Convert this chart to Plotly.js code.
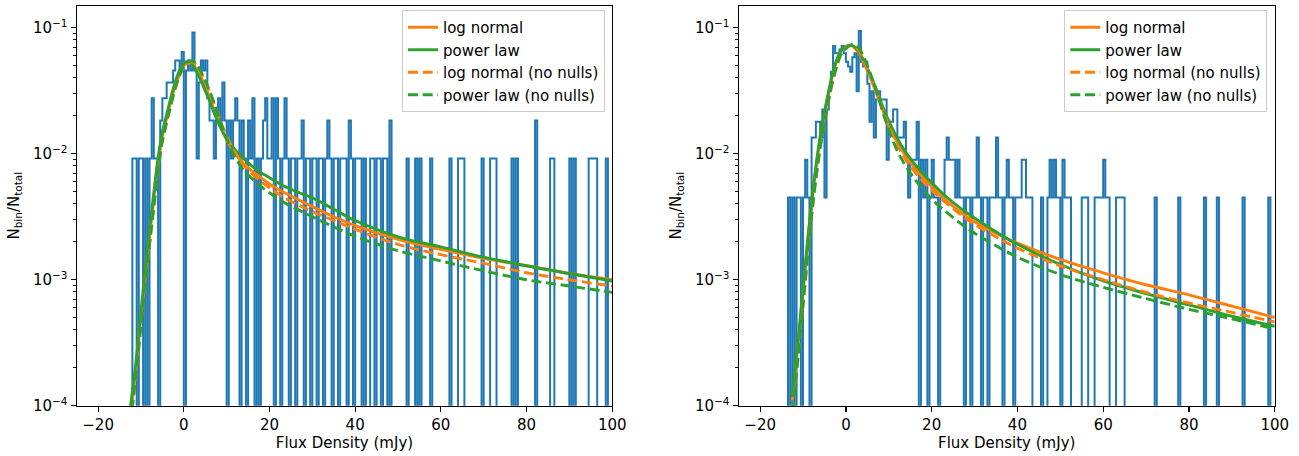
<!DOCTYPE html>
<html><head><meta charset="utf-8">
<script src="https://cdn.plot.ly/plotly-3.0.1.min.js"></script>
<style>html,body{margin:0;padding:0;background:#fff}#chart{width:1299px;height:456px}</style>
</head><body><div id="chart"></div>
<script>
// ---------- histogram data (bin counts, 0.5 mJy bins starting at -14 mJy) ----------
const histStart = -14;
const histBinWidth = 0.5;
const leftTotal = 109;
const rightTotal = 223;

const leftCounts = [
  0,0,0,0,1,1,0,1,1,0,   // -14 .. -9.5
  1,0,1,3,1,1,0,2,3,3,   // -9 .. -4.5
  4,4,4,5,6,6,5,7,0,5,   // -4 .. 0.5
  6,5,10,5,1,4,6,5,6,3,  // 1 .. 5.5
  2,2,1,2,3,2,4,2,0,2,   // 6 .. 10.5
  1,2,3,2,0,2,1,0,2,1,   // 11 .. 15.5
  3,0,1,0,1,2,3,1,1,3,   // 16 .. 20.5
  0,3,1,0,1,3,1,0,1,1,   // 21 .. 25.5
  0,1,1,2,0,1,1,0,1,1,   // 26 .. 30.5
  0,1,1,0,1,2,1,0,1,1,   // 31 .. 35.5
  0,1,1,1,0,2,1,0,1,1,   // 36 .. 40.5
  1,0,1,0,0,1,1,0,1,1,   // 41 .. 45.5
  0,1,1,0,2,0,0,0,0,0,   // 46 .. 50.5
  0,0,1,0,0,0,1,0,1,0,   // 51 .. 55.5
  0,0,0,1,0,0,0,0,0,0,   // 56 .. 60.5
  0,0,1,0,0,0,1,1,1,0,   // 61 .. 65.5
  0,0,0,0,0,0,0,1,0,0,   // 66 .. 70.5
  0,1,1,1,0,0,0,0,0,0,   // 71 .. 75.5
  0,1,0,1,0,0,0,0,0,0,   // 76 .. 80.5
  0,0,2,0,0,0,0,0,0,1,   // 81 .. 85.5
  1,0,0,0,0,0,0,0,1,0,   // 86 .. 90.5
  1,0,0,0,0,0,0,1,1,1,   // 91 .. 95.5
  1,0,0,0,0,1,0,0        // 96 .. 99.5
];

const rightCounts = [
  0,1,0,1,0,1,1,0,1,2,        // -14 .. -9.5
  1,0,3,3,4,4,3,5,1,5,        // -9 .. -4.5
  7,10,16,14,14,15,16,14,12,11, // -4 .. 0.5
  10,13,14,7,21,12,11,12,8,4, // 1 .. 5.5
  7,3,6,7,6,6,6,2,4,4,        // 6 .. 10.5
  5,5,3,3,3,4,2,1,2,2,        // 11 .. 15.5
  2,4,0,2,1,2,0,1,2,1,        // 16 .. 20.5
  1,0,1,1,2,3,2,2,2,1,        // 21 .. 25.5
  2,1,1,0,1,1,0,1,1,3,        // 26 .. 30.5
  1,0,1,1,0,1,1,1,3,1,        // 31 .. 35.5
  1,0,1,2,1,1,0,1,1,1,        // 36 .. 40.5
  2,2,1,1,1,0,0,0,0,1,        // 41 .. 45.5
  0,0,1,2,1,2,1,1,0,2,        // 46 .. 50.5
  1,1,1,0,0,0,0,0,1,1,        // 51 .. 55.5
  1,0,0,0,1,1,1,1,2,1,        // 56 .. 60.5
  1,0,0,0,1,1,1,1,0,0,        // 61 .. 65.5
  0,0,0,0,0,0,0,0,0,0,        // 66 .. 70.5
  0,0,1,0,0,0,0,0,0,0,        // 71 .. 75.5
  0,0,0,1,0,0,0,0,0,0,        // 76 .. 80.5
  0,0,0,0,0,1,0,0,0,0,        // 81 .. 85.5
  0,1,0,0,0,0,0,0,0,0,        // 86 .. 90.5
  0,0,0,1,0,0,0,0,0,0,        // 91 .. 95.5
  0,0,0,0,0,1,0,0             // 96 .. 99.5
];

// ---------- fitted curves ----------
const fitX = [-12.5,-11,-10,-9,-8,-7,-6,-5,-4,-3,-2,-1,0,1,2,3,4,5,6,7,8,9,10,12,14,16,18,20,23,27,30,35,40,50,60,70,80,90,100];

const leftLogNormal = [8.32e-5,2.24e-4,5.01e-4,1.07e-3,2.19e-3,4.37e-3,8.71e-3,1.38e-2,1.91e-2,2.63e-2,3.47e-2,4.27e-2,5.01e-2,5.25e-2,5.13e-2,4.68e-2,4.07e-2,3.47e-2,2.75e-2,2.24e-2,1.82e-2,1.51e-2,1.29e-2,1.00e-2,8.32e-3,7.24e-3,6.46e-3,5.75e-3,5.01e-3,4.27e-3,3.80e-3,3.16e-3,2.69e-3,2.09e-3,1.74e-3,1.48e-3,1.29e-3,1.12e-3,1.00e-3];
const leftPowerLaw = [9.55e-5,2.51e-4,5.62e-4,1.20e-3,2.45e-3,4.90e-3,9.33e-3,1.48e-2,2.04e-2,2.82e-2,3.72e-2,4.57e-2,5.19e-2,5.43e-2,5.13e-2,4.47e-2,3.80e-2,3.16e-2,2.63e-2,2.14e-2,1.78e-2,1.51e-2,1.32e-2,1.07e-2,9.12e-3,7.94e-3,7.08e-3,6.46e-3,5.62e-3,4.90e-3,4.47e-3,3.63e-3,2.95e-3,2.19e-3,1.82e-3,1.51e-3,1.29e-3,1.12e-3,9.77e-4];
const leftLogNormalNoNulls = [7.08e-5,2.00e-4,4.37e-4,9.33e-4,1.91e-3,3.80e-3,7.59e-3,1.26e-2,1.78e-2,2.45e-2,3.31e-2,4.17e-2,4.90e-2,5.25e-2,5.37e-2,5.01e-2,4.37e-2,3.72e-2,3.09e-2,2.51e-2,2.04e-2,1.66e-2,1.38e-2,1.02e-2,8.13e-3,6.92e-3,6.03e-3,5.37e-3,4.57e-3,3.89e-3,3.47e-3,2.95e-3,2.51e-3,1.91e-3,1.58e-3,1.35e-3,1.135e-3,1.00e-3,8.91e-4];
const leftPowerLawNoNulls = [7.08e-5,2.00e-4,4.37e-4,9.33e-4,1.91e-3,3.80e-3,7.59e-3,1.26e-2,1.78e-2,2.45e-2,3.31e-2,4.17e-2,5.01e-2,5.37e-2,5.43e-2,5.13e-2,4.47e-2,3.80e-2,3.16e-2,2.57e-2,2.04e-2,1.62e-2,1.32e-2,9.33e-3,7.41e-3,6.31e-3,5.50e-3,4.90e-3,4.17e-3,3.55e-3,3.16e-3,2.63e-3,2.21e-3,1.70e-3,1.41e-3,1.175e-3,1.00e-3,8.91e-4,7.94e-4];

const rightLogNormal = [1.10e-4,3.47e-4,7.94e-4,1.82e-3,3.98e-3,7.59e-3,1.32e-2,2.04e-2,3.02e-2,4.37e-2,5.62e-2,6.61e-2,7.08e-2,7.24e-2,6.92e-2,6.31e-2,5.37e-2,4.57e-2,3.80e-2,3.09e-2,2.51e-2,2.04e-2,1.66e-2,1.23e-2,9.55e-3,7.76e-3,6.46e-3,5.50e-3,4.37e-3,3.39e-3,2.88e-3,2.34e-3,1.95e-3,1.45e-3,1.135e-3,9.12e-4,7.59e-4,6.17e-4,5.01e-4];
const rightPowerLaw = [1.175e-4,3.72e-4,8.51e-4,1.95e-3,4.17e-3,7.94e-3,1.38e-2,2.14e-2,3.16e-2,4.47e-2,5.75e-2,6.68e-2,7.08e-2,7.24e-2,7.08e-2,6.46e-2,5.62e-2,4.79e-2,3.98e-2,3.31e-2,2.69e-2,2.19e-2,1.82e-2,1.32e-2,1.02e-2,8.32e-3,6.92e-3,5.89e-3,4.68e-3,3.63e-3,3.09e-3,2.40e-3,1.91e-3,1.32e-3,9.77e-4,7.76e-4,6.31e-4,5.13e-4,4.27e-4];
const rightLogNormalNoNulls = [8.91e-5,2.75e-4,6.31e-4,1.45e-3,3.24e-3,6.31e-3,1.12e-2,1.78e-2,2.69e-2,3.89e-2,5.13e-2,6.31e-2,6.92e-2,7.24e-2,7.24e-2,6.61e-2,5.75e-2,4.79e-2,3.98e-2,3.24e-2,2.57e-2,2.04e-2,1.66e-2,1.175e-2,8.91e-3,7.24e-3,6.03e-3,5.13e-3,4.17e-3,3.24e-3,2.75e-3,2.19e-3,1.78e-3,1.29e-3,1.00e-3,7.94e-4,6.53e-4,5.50e-4,4.62e-4];
const rightPowerLawNoNulls = [8.91e-5,2.75e-4,6.31e-4,1.45e-3,3.24e-3,6.31e-3,1.12e-2,1.78e-2,2.69e-2,3.89e-2,5.13e-2,6.31e-2,6.84e-2,7.24e-2,7.41e-2,6.92e-2,6.03e-2,5.01e-2,4.07e-2,3.24e-2,2.51e-2,1.95e-2,1.55e-2,1.05e-2,7.94e-3,6.31e-3,5.25e-3,4.37e-3,3.55e-3,2.75e-3,2.34e-3,1.86e-3,1.51e-3,1.10e-3,8.71e-4,7.08e-4,5.82e-4,4.90e-4,4.07e-4];

const xTickVals = [-20,0,20,40,60,80,100];
const yTickVals = [1e-4,1e-3,1e-2,1e-1];
const yTickText = ['10<sup>−4</sup>','10<sup>−3</sup>','10<sup>−2</sup>','10<sup>−1</sup>'];
const curveNames = ['log normal','power law','log normal (no nulls)','power law (no nulls)'];

// ---------- build ----------
const BLUE = '#1f77b4', ORANGE = '#ff7f0e', GREEN = '#2ca02c';
const FONT = 'DejaVu Sans';
const FSIZE = 15;
const FLOOR = 1e-8; // empty bins drop below the axis

function stairs(counts, total) {
  const xs = [histStart], ys = [FLOOR];
  for (let i = 0; i < counts.length; i++) {
    xs.push(histStart + i * histBinWidth);
    ys.push(counts[i] > 0 ? counts[i] / total : FLOOR);
  }
  const end = histStart + counts.length * histBinWidth;
  xs.push(end); ys.push(ys[ys.length - 1]);
  xs.push(end); ys.push(FLOOR);
  return {xs, ys};
}

const traces = [];
function panel(counts, total, curves, xa, ya, leg) {
  const s = stairs(counts, total);
  traces.push({x: s.xs, y: s.ys, xaxis: xa, yaxis: ya, type: 'scatter', mode: 'lines',
    line: {color: BLUE, width: 2, shape: 'hv'}, showlegend: false, hoverinfo: 'skip'});
  const styles = [
    {color: ORANGE, dash: 'solid'}, {color: GREEN, dash: 'solid'},
    {color: ORANGE, dash: '10px,4.7px'}, {color: GREEN, dash: '10px,4.7px'}
  ];
  curves.forEach((c, i) => {
    traces.push({x: fitX, y: c, xaxis: xa, yaxis: ya, type: 'scatter', mode: 'lines',
      name: curveNames[i], legend: leg, legendgroup: leg + i,
      line: {color: styles[i].color, width: 2.9, dash: styles[i].dash, shape: 'spline', smoothing: 1}});
  });
}
panel(leftCounts, leftTotal, [leftLogNormal, leftPowerLaw, leftLogNormalNoNulls, leftPowerLawNoNulls], 'x', 'y', 'legend');
panel(rightCounts, rightTotal, [rightLogNormal, rightPowerLaw, rightLogNormalNoNulls, rightPowerLawNoNulls], 'x2', 'y2', 'legend2');

const W = 1299, H = 456;
const tickFont = {family: FONT, size: FSIZE, color: '#000'};
const minorVals = [];
for (let e = -4; e <= -1; e++) for (let m = 2; m <= 9; m++) minorVals.push(m * Math.pow(10, e));

function xAxis(domain, anchor) {
  return {domain: domain, anchor: anchor, range: [-25, 100], tickvals: xTickVals,
    ticks: 'outside', ticklen: 5, tickwidth: 1.2, tickcolor: '#000',
    showline: true, linecolor: '#000', linewidth: 1.2, mirror: true,
    showgrid: false, zeroline: false, tickfont: tickFont, automargin: false,
    title: {text: 'Flux Density (mJy)', font: tickFont, standoff: 4}};
}
function yAxis(anchor) {
  return {domain: [1 - 405.7 / H, 1 - 5.7 / H], anchor: anchor, type: 'log', range: [-4, -0.825],
    tickvals: yTickVals, ticktext: yTickText,
    ticks: 'outside', ticklen: 5, tickwidth: 1.2, tickcolor: '#000',
    minor: {tickvals: minorVals, ticks: 'outside', ticklen: 2.9, tickwidth: 0.9, tickcolor: '#000', showgrid: false},
    showline: true, linecolor: '#000', linewidth: 1.2, mirror: true,
    showgrid: false, zeroline: false, tickfont: tickFont, automargin: false,
    title: {text: 'N<sub>bin</sub>/N<sub>total</sub>', font: tickFont, standoff: 9}};
}
function legendCfg(xRight) {
  return {x: xRight / W, xanchor: 'right', y: 1 - 10 / H, yanchor: 'top',
    bgcolor: 'rgba(255,255,255,0.8)', bordercolor: '#cccccc', borderwidth: 1,
    font: {family: FONT, size: FSIZE, color: '#000'}, tracegroupgap: 0, itemwidth: 30};
}

const layout = {
  width: W, height: H, margin: {l: 0, r: 0, t: 0, b: 0},
  paper_bgcolor: '#fff', plot_bgcolor: '#fff',
  font: {family: FONT, size: FSIZE, color: '#000'},
  xaxis: xAxis([76.7 / W, 612.2 / W], 'y'),
  yaxis: yAxis('x'),
  xaxis2: xAxis([738.7 / W, 1274.7 / W], 'y2'),
  yaxis2: yAxis('x2'),
  legend: legendCfg(605),
  legend2: legendCfg(1267.3),
  showlegend: true
};

Plotly.newPlot('chart', traces, layout, {staticPlot: true, displayModeBar: false});
</script>
</body></html>
